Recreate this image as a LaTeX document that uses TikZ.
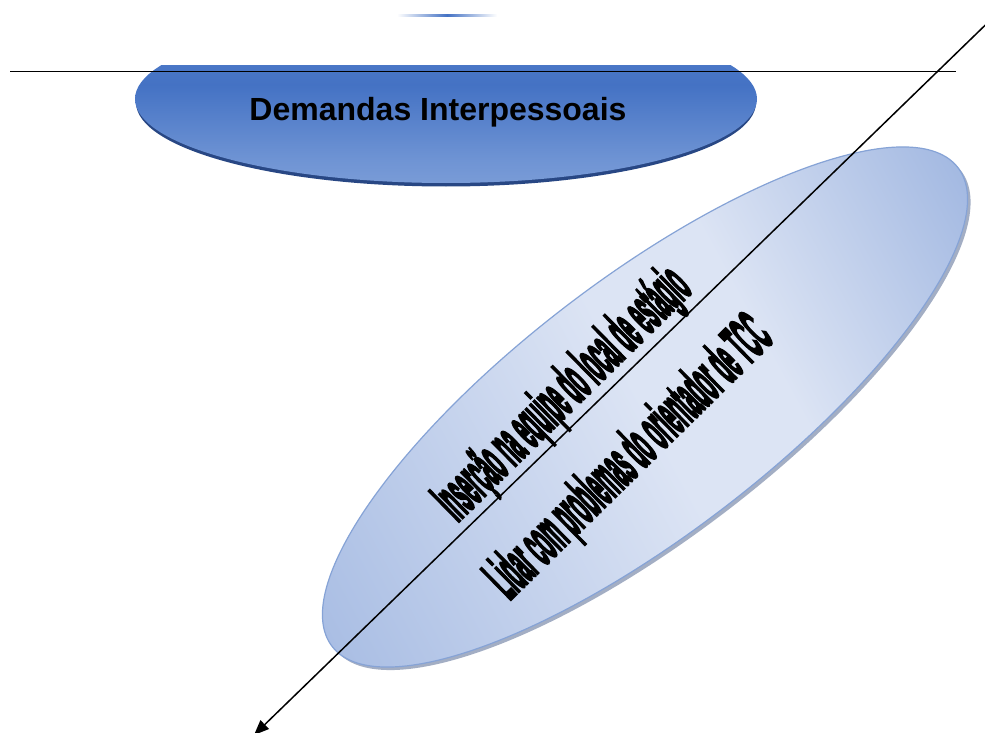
\documentclass[tikz,border=0pt]{standalone}
\usepackage{fontspec}
\setmainfont{Liberation Sans}
\newfontfamily\condfont[FakeBold=5.5]{Liberation Sans Bold}
\usetikzlibrary{arrows.meta}
\definecolor{slice}{HTML}{4472C4}
\definecolor{topA}{HTML}{5A84CD}
\definecolor{topB}{HTML}{4472C4}
\definecolor{topM}{HTML}{6F94D4}
\definecolor{topC}{HTML}{94AFDF}
\definecolor{rim}{HTML}{284784}
\definecolor{glowin}{HTML}{DCE4F4}
\definecolor{glowout}{HTML}{8EA9DB}
\definecolor{edgeblue}{HTML}{86A3D6}
\definecolor{shadowc}{HTML}{A3AEC4}
\pgfdeclareverticalshading{topshade}{100bp}{color(0bp)=(topC); color(35bp)=(topM); color(67bp)=(topB); color(100bp)=(topA)}
\pgfdeclarehorizontalshading{bandshade}{100bp}{color(0bp)=(glowout); color(14bp)=(glowout); color(50bp)=(glowin); color(58bp)=(glowin); color(79bp)=(glowout); color(100bp)=(glowout)}
\tikzset{
  slanttext/.style={font=\condfont\fontsize{61}{70}\selectfont, inner sep=0pt, anchor=base, rotate=44.5, xscale=0.296},
  titletext/.style={font=\bfseries\fontsize{32}{38}\selectfont, inner sep=0pt, anchor=base},
  rule/.style={line width=1.3pt, black},
  connector/.style={line width=1.5pt, black, -{Triangle[length=15pt,width=12pt]}}
}
\begin{document}
\begin{tikzpicture}[x=1pt,y=-1pt]
\useasboundingbox (0,0) rectangle (985,733);
\fill[white] (0,0) rectangle (985,733);
\clip (0,0) rectangle (985,733);

% small sliver at top
\shade[left color=white, right color=white, middle color=slice] (397,14.2) rectangle (497,16.2);

% top half-ellipse
\begin{scope}
  \clip (0,66) rectangle (985,200);
  \fill[rim] (446,102.5) ellipse [x radius=310, y radius=84];
  \clip (446,99) ellipse [x radius=311, y radius=84];
  \shade[shading=topshade] (130,66) rectangle (762,184);
\end{scope}
\node[titletext] (dem) at (438,121) {Demandas Interpessoais};

% horizontal rule
\coordinate (hl) at (10,71.5);
\coordinate (hr) at (956,71.5);
\draw[rule] (hl) -- (hr);

% big rotated ellipse
\begin{scope}[transform canvas={rotate around={37.4:(648,410)}}]
  \fill[shadowc] (648,410) ellipse [x radius=394, y radius=128];
\end{scope}
\begin{scope}[transform canvas={rotate around={37.4:(645,407)}}]
  \clip (645,407) ellipse [x radius=394, y radius=128];
  \begin{scope}[transform canvas={rotate around={-9:(645,407)}}]
    \shade[shading=bandshade] (225,107) rectangle (1065,707);
  \end{scope}
\end{scope}
\begin{scope}[transform canvas={rotate around={37.4:(645,407)}}]
  \draw[edgeblue, line width=1.2pt] (645,407) ellipse [x radius=394, y radius=128];
\end{scope}

% texts
\node[slanttext] (t1) at (575.4,406.6) {Inserção na equipe do local de estágio};
\node[slanttext] (t2) at (641.9,470.3) {Lidar com problemas do orientador de TCC};

% diagonal arrow
\coordinate (astart) at (990,20.5);
\coordinate (aend) at (254,735);
\draw[connector] (astart) -- (aend);
\end{tikzpicture}
\end{document}
